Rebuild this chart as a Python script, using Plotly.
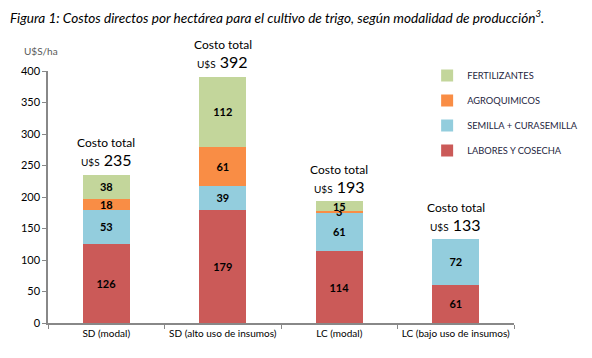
import plotly.graph_objects as go

categories = ["SD (modal)", "SD (alto uso de insumos)", "LC (modal)", "LC (bajo uso de insumos)"]
labores = [126, 179, 114, 61]
semilla = [53, 39, 61, 72]
agroquimicos = [18, 61, 3, 0]
fertilizantes = [38, 112, 15, 0]
totales = [235, 392, 193, 133]
y_ticks = [0, 50, 100, 150, 200, 250, 300, 350, 400]

FONT = "Lato"
series = [
    ("LABORES Y COSECHA", labores, "#CB5A58", 4),
    ("SEMILLA + CURASEMILLA", semilla, "#93CDDD", 3),
    ("AGROQUIMICOS", agroquimicos, "#F98D45", 2),
    ("FERTILIZANTES", fertilizantes, "#C3D69B", 1),
]

fig = go.Figure()
for name, vals, color, rank in series:
    fig.add_trace(go.Bar(
        x=categories, y=vals, name=name,
        marker=dict(color=color, line=dict(width=0)),
        text=[str(v) if v else "" for v in vals],
        textposition="inside", insidetextanchor="middle",
        constraintext="none", textangle=0,
        textfont=dict(family=FONT, size=11, color="black", weight="bold"),
        legendgroup=name, legendrank=rank,
        hoverinfo="skip",
    ))

for cat, tot in zip(categories, totales):
    fig.add_annotation(x=cat, y=tot, xref="x", yref="y", text="Costo total",
                       showarrow=False, yshift=32, font=dict(family=FONT, size=12, color="black"))
    fig.add_annotation(x=cat, y=tot, xref="x", yref="y",
                       text="<span style='font-size:10px'>U$S</span> " + str(tot),
                       showarrow=False, yshift=15, font=dict(family=FONT, size=16, color="black"))

fig.add_annotation(x=0, y=1, xref="paper", yref="paper", xanchor="left", yanchor="bottom",
                   xshift=-26, yshift=12, text="U$S/ha", showarrow=False,
                   font=dict(family=FONT, size=10, color="#595959"))

fig.update_layout(
    width=592, height=358,
    barmode="stack", bargap=0.595,
    plot_bgcolor="white", paper_bgcolor="white",
    margin=dict(l=40, r=86, t=63, b=43, autoexpand=False),
    title=dict(text="<i>Figura 1: Costos directos por hectárea para el cultivo de trigo, según modalidad de producción<sup>3</sup>.</i>",
               x=0.0034, xref="container", xanchor="left", y=0.972, yref="container", yanchor="middle",
               font=dict(family=FONT, size=13.6, color="black")),
    font=dict(family=FONT, size=11, color="black"),
    legend=dict(x=0.708, y=0.852, xref="container", yref="container", xanchor="left", yanchor="top",
                traceorder="grouped", tracegroupgap=6,
                font=dict(family=FONT, size=9.3, color="#1F1F3F"),
                bgcolor="rgba(0,0,0,0)", itemwidth=30),
    showlegend=True,
)
fig.update_xaxes(showline=True, linecolor="#888888", linewidth=1.5,
                 ticks="outside", tickson="boundaries", ticklen=4, tickcolor="#888888",
                 tickangle=0, automargin=False,
                 tickfont=dict(family=FONT, size=10, color="black"))
fig.update_yaxes(range=[0, 400], tickvals=y_ticks, showgrid=False, zeroline=False,
                 showline=True, linecolor="#888888", linewidth=1.5,
                 ticks="outside", ticklen=4, tickcolor="#888888", automargin=False,
                 tickfont=dict(family=FONT, size=11, color="black"))

fig.write_html("out.html")
